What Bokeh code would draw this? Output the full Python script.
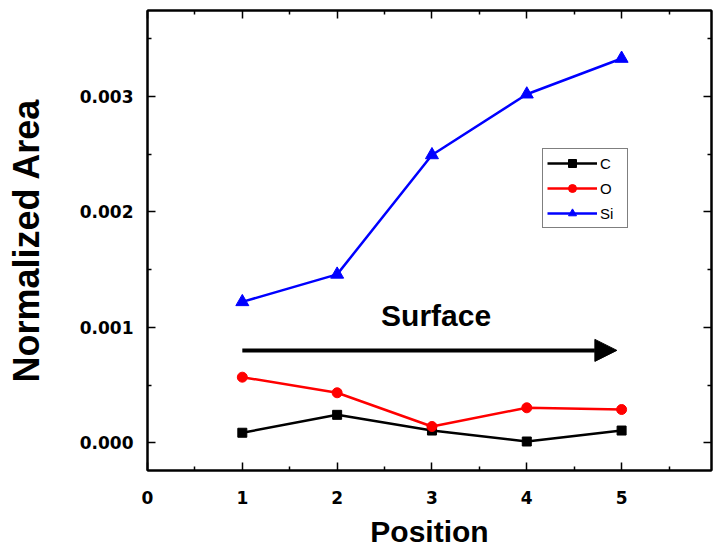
from bokeh.plotting import figure
from bokeh.models import (Range1d, FixedTicker, LinearAxis, Legend, LegendItem,
                          Arrow, NormalHead, Label)
from bokeh.embed import file_html
from bokeh.resources import INLINE

positions = [1, 2, 3, 4, 5]
c_vals = [0.000087, 0.000242, 0.000106, 0.000011, 0.000106]
o_vals = [0.000568, 0.000433, 0.000141, 0.000303, 0.000288]
si_vals = [0.001220, 0.001458, 0.002492, 0.003018, 0.003327]

y_ticks = [0.0, 0.001, 0.002, 0.003]
y_tick_labels = ["0.000", "0.001", "0.002", "0.003"]
y_minor = [-0.0005, 0.0005, 0.0015, 0.0025, 0.0035]
x_ticks = [0, 1, 2, 3, 4, 5, 6]
x_tick_labels = ["0", "1", "2", "3", "4", "5", "6"]
x_minor = [0.5, 1.5, 2.5, 3.5, 4.5, 5.5]

arrow_x = [1.0, 4.95]
arrow_y = 0.0008
surface_xy = (3.044, 0.0011)

FONT = "Liberation Sans"
TICK_FONT = "DejaVu Sans"

p = figure(width=716, height=551, output_backend="svg", toolbar_location=None,
           x_range=Range1d(0, 5.948), y_range=Range1d(-0.00024, 0.003743),
           min_border_left=147, min_border_right=5, min_border_top=10,
           min_border_bottom=81, x_axis_location=None, y_axis_location=None)
p.grid.visible = False
p.outline_line_color = "black"
p.outline_line_width = 2
p.background_fill_color = "white"
p.border_fill_color = "white"


def style_axis(ax, ticks, minor, labels=True):
    ax.ticker = FixedTicker(ticks=ticks, minor_ticks=minor)
    ax.axis_line_color = "black"
    ax.axis_line_width = 2
    ax.major_tick_in = 8
    ax.major_tick_out = 0
    ax.minor_tick_in = 4
    ax.minor_tick_out = 0
    ax.major_tick_line_width = 1.5
    ax.minor_tick_line_width = 1.5
    ax.major_tick_line_color = "black"
    ax.minor_tick_line_color = "black"
    ax.major_label_text_font = TICK_FONT
    ax.major_label_text_font_size = "17px"
    ax.major_label_text_font_style = "bold"
    ax.major_label_text_color = "black"
    if labels:
        ax.axis_label_text_font = FONT
        ax.axis_label_text_font_style = "bold"
        ax.axis_label_text_color = "black"
    else:
        ax.major_label_overrides = {t: "" for t in ticks}
        ax.major_label_standoff = 0


xb = LinearAxis(axis_label="Position")
style_axis(xb, x_ticks, x_minor)
xb.major_label_overrides = {t: l for t, l in zip(x_ticks, x_tick_labels)}
xb.major_label_standoff = 20
xb.axis_label_standoff = 8
xb.axis_label_text_font_size = "30px"
p.add_layout(xb, "below")

yl = LinearAxis(axis_label="Normalized Area")
style_axis(yl, y_ticks, y_minor)
yl.major_label_overrides = {t: l for t, l in zip(y_ticks, y_tick_labels)}
yl.major_label_standoff = 14
yl.axis_label_standoff = 30
yl.axis_label_text_font_size = "36px"
p.add_layout(yl, "left")

xt = LinearAxis()
style_axis(xt, x_ticks, x_minor, labels=False)
p.add_layout(xt, "above")

yr = LinearAxis()
style_axis(yr, y_ticks, y_minor, labels=False)
p.add_layout(yr, "right")

lc = p.line(positions, c_vals, line_color="black", line_width=2.5)
mc = p.scatter(positions, c_vals, marker="square", size=9, color="black")
lo = p.line(positions, o_vals, line_color="red", line_width=2.5)
mo = p.scatter(positions, o_vals, marker="circle", size=10, color="red")
ls = p.line(positions, si_vals, line_color="blue", line_width=2.5)
ms = p.scatter(positions, si_vals, marker="triangle", size=13, color="blue")

p.add_layout(Arrow(end=NormalHead(size=22, fill_color="black", line_color="black",
                                  line_width=1),
                   x_start=arrow_x[0], y_start=arrow_y, x_end=arrow_x[1], y_end=arrow_y,
                   line_width=4, line_color="black"))
p.add_layout(Label(x=surface_xy[0], y=surface_xy[1], text="Surface",
                   text_align="center", text_baseline="middle",
                   text_font=FONT, text_font_size="30px", text_font_style="bold",
                   text_color="black"))

legend = Legend(items=[LegendItem(label="C", renderers=[lc, mc]),
                       LegendItem(label="O", renderers=[lo, mo]),
                       LegendItem(label="Si", renderers=[ls, ms])],
                location=(395, 242))
legend.glyph_width = 50
legend.glyph_height = 20
legend.label_height = 20
legend.label_width = 23
legend.label_standoff = 3
legend.spacing = 5
legend.padding = 4
legend.margin = 0
legend.border_line_color = "black"
legend.border_line_width = 1.5
legend.label_text_font = FONT
legend.label_text_font_size = "15px"
legend.label_text_color = "black"
legend.background_fill_color = "white"
p.add_layout(legend, "center")

open("out.html", "w").write(file_html(p, INLINE))
